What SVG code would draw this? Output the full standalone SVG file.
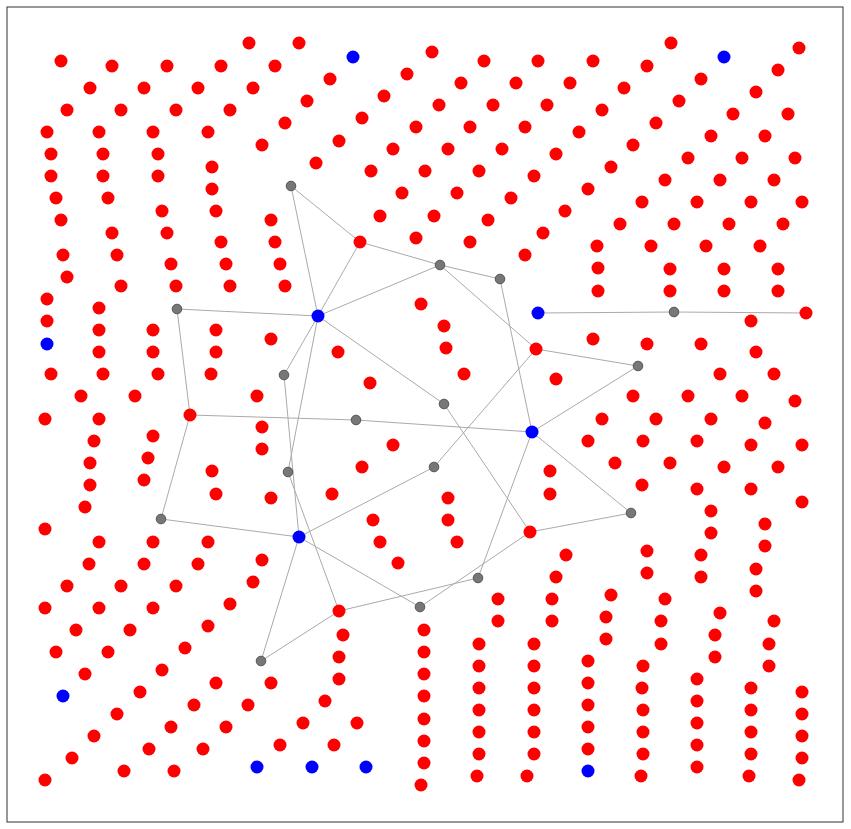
<svg xmlns="http://www.w3.org/2000/svg" width="851" height="829" viewBox="0 0 851 829">
<style>
.r{fill:#ff0000}
.b{fill:#0000ff}
.g{fill:#777777;stroke:#555555;stroke-width:1}
.e line{stroke:#aaaaaa;stroke-width:1}
</style>
<rect x="7" y="7" width="836" height="815" fill="#ffffff" stroke="#333333" stroke-width="1"/>
<g id="connectors" class="e">
<line x1="291" y1="186" x2="360" y2="242"/>
<line x1="291" y1="186" x2="318" y2="316"/>
<line x1="360" y1="242" x2="318" y2="316"/>
<line x1="360" y1="242" x2="440" y2="265"/>
<line x1="440" y1="265" x2="318" y2="316"/>
<line x1="440" y1="265" x2="500" y2="279"/>
<line x1="440" y1="265" x2="536" y2="349"/>
<line x1="500" y1="279" x2="532" y2="432"/>
<line x1="318" y1="316" x2="177" y2="309"/>
<line x1="318" y1="316" x2="284" y2="375"/>
<line x1="318" y1="316" x2="288" y2="472"/>
<line x1="318" y1="316" x2="444" y2="404"/>
<line x1="284" y1="375" x2="299" y2="537"/>
<line x1="288" y1="472" x2="339" y2="611"/>
<line x1="177" y1="309" x2="190" y2="415"/>
<line x1="190" y1="415" x2="356" y2="420"/>
<line x1="356" y1="420" x2="532" y2="432"/>
<line x1="190" y1="415" x2="161" y2="519"/>
<line x1="161" y1="519" x2="299" y2="537"/>
<line x1="299" y1="537" x2="434" y2="467"/>
<line x1="434" y1="467" x2="536" y2="349"/>
<line x1="299" y1="537" x2="261" y2="661"/>
<line x1="299" y1="537" x2="420" y2="607"/>
<line x1="261" y1="661" x2="339" y2="611"/>
<line x1="339" y1="611" x2="478" y2="578"/>
<line x1="478" y1="578" x2="532" y2="432"/>
<line x1="420" y1="607" x2="530" y2="532"/>
<line x1="444" y1="404" x2="530" y2="532"/>
<line x1="530" y1="532" x2="631" y2="513"/>
<line x1="532" y1="432" x2="631" y2="513"/>
<line x1="532" y1="432" x2="638" y2="366"/>
<line x1="536" y1="349" x2="638" y2="366"/>
<line x1="538" y1="313" x2="674" y2="312"/>
<line x1="674" y1="312" x2="806" y2="313"/>
</g>
<g id="nodes">
<g id="b1"><circle class="b" cx="353" cy="57" r="6.5"/></g>
<g id="b2"><circle class="b" cx="724" cy="57" r="6.5"/></g>
<g id="b3"><circle class="b" cx="47" cy="344" r="6.5"/></g>
<g id="b4"><circle class="b" cx="318" cy="316" r="6.5"/></g>
<g id="b5"><circle class="b" cx="538" cy="313" r="6.5"/></g>
<g id="b6"><circle class="b" cx="532" cy="432" r="6.5"/></g>
<g id="b7"><circle class="b" cx="299" cy="537" r="6.5"/></g>
<g id="b8"><circle class="b" cx="63" cy="696" r="6.5"/></g>
<g id="b9"><circle class="b" cx="257" cy="767" r="6.5"/></g>
<g id="b10"><circle class="b" cx="312" cy="767" r="6.5"/></g>
<g id="b11"><circle class="b" cx="366" cy="767" r="6.5"/></g>
<g id="b12"><circle class="b" cx="588" cy="771" r="6.5"/></g>
<g id="g1"><circle class="g" cx="291" cy="186" r="4.8"/></g>
<g id="g2"><circle class="g" cx="440" cy="265" r="4.8"/></g>
<g id="g3"><circle class="g" cx="500" cy="279" r="4.8"/></g>
<g id="g4"><circle class="g" cx="177" cy="309" r="4.8"/></g>
<g id="g5"><circle class="g" cx="284" cy="375" r="4.8"/></g>
<g id="g6"><circle class="g" cx="444" cy="404" r="4.8"/></g>
<g id="g7"><circle class="g" cx="356" cy="420" r="4.8"/></g>
<g id="g8"><circle class="g" cx="288" cy="472" r="4.8"/></g>
<g id="g9"><circle class="g" cx="434" cy="467" r="4.8"/></g>
<g id="g10"><circle class="g" cx="161" cy="519" r="4.8"/></g>
<g id="g11"><circle class="g" cx="638" cy="366" r="4.8"/></g>
<g id="g12"><circle class="g" cx="674" cy="312" r="4.8"/></g>
<g id="g13"><circle class="g" cx="631" cy="513" r="4.8"/></g>
<g id="g14"><circle class="g" cx="478" cy="578" r="4.8"/></g>
<g id="g15"><circle class="g" cx="420" cy="607" r="4.8"/></g>
<g id="g16"><circle class="g" cx="261" cy="661" r="4.8"/></g>
<g id="r1"><circle class="r" cx="61" cy="61" r="6.5"/></g>
<g id="r2"><circle class="r" cx="112" cy="66" r="6.5"/></g>
<g id="r3"><circle class="r" cx="167" cy="66" r="6.5"/></g>
<g id="r4"><circle class="r" cx="221" cy="66" r="6.5"/></g>
<g id="r5"><circle class="r" cx="90" cy="88" r="6.5"/></g>
<g id="r6"><circle class="r" cx="144" cy="88" r="6.5"/></g>
<g id="r7"><circle class="r" cx="198" cy="88" r="6.5"/></g>
<g id="r8"><circle class="r" cx="67" cy="110" r="6.5"/></g>
<g id="r9"><circle class="r" cx="121" cy="110" r="6.5"/></g>
<g id="r10"><circle class="r" cx="176" cy="110" r="6.5"/></g>
<g id="r11"><circle class="r" cx="47" cy="132" r="6.5"/></g>
<g id="r12"><circle class="r" cx="99" cy="132" r="6.5"/></g>
<g id="r13"><circle class="r" cx="153" cy="132" r="6.5"/></g>
<g id="r14"><circle class="r" cx="208" cy="132" r="6.5"/></g>
<g id="r15"><circle class="r" cx="51" cy="154" r="6.5"/></g>
<g id="r16"><circle class="r" cx="103" cy="154" r="6.5"/></g>
<g id="r17"><circle class="r" cx="158" cy="154" r="6.5"/></g>
<g id="r18"><circle class="r" cx="212" cy="167" r="6.5"/></g>
<g id="r19"><circle class="r" cx="51" cy="176" r="6.5"/></g>
<g id="r20"><circle class="r" cx="103" cy="176" r="6.5"/></g>
<g id="r21"><circle class="r" cx="158" cy="176" r="6.5"/></g>
<g id="r22"><circle class="r" cx="212" cy="189" r="6.5"/></g>
<g id="r23"><circle class="r" cx="56" cy="198" r="6.5"/></g>
<g id="r24"><circle class="r" cx="108" cy="198" r="6.5"/></g>
<g id="r25"><circle class="r" cx="162" cy="211" r="6.5"/></g>
<g id="r26"><circle class="r" cx="216" cy="211" r="6.5"/></g>
<g id="r27"><circle class="r" cx="61" cy="220" r="6.5"/></g>
<g id="r28"><circle class="r" cx="112" cy="233" r="6.5"/></g>
<g id="r29"><circle class="r" cx="167" cy="233" r="6.5"/></g>
<g id="r30"><circle class="r" cx="221" cy="242" r="6.5"/></g>
<g id="r31"><circle class="r" cx="63" cy="255" r="6.5"/></g>
<g id="r32"><circle class="r" cx="117" cy="255" r="6.5"/></g>
<g id="r33"><circle class="r" cx="171" cy="264" r="6.5"/></g>
<g id="r34"><circle class="r" cx="67" cy="277" r="6.5"/></g>
<g id="r35"><circle class="r" cx="249" cy="43" r="6.5"/></g>
<g id="r36"><circle class="r" cx="299" cy="43" r="6.5"/></g>
<g id="r37"><circle class="r" cx="275" cy="66" r="6.5"/></g>
<g id="r38"><circle class="r" cx="330" cy="79" r="6.5"/></g>
<g id="r39"><circle class="r" cx="407" cy="74" r="6.5"/></g>
<g id="r40"><circle class="r" cx="253" cy="88" r="6.5"/></g>
<g id="r41"><circle class="r" cx="307" cy="101" r="6.5"/></g>
<g id="r42"><circle class="r" cx="384" cy="96" r="6.5"/></g>
<g id="r43"><circle class="r" cx="230" cy="110" r="6.5"/></g>
<g id="r44"><circle class="r" cx="285" cy="123" r="6.5"/></g>
<g id="r45"><circle class="r" cx="362" cy="118" r="6.5"/></g>
<g id="r46"><circle class="r" cx="416" cy="127" r="6.5"/></g>
<g id="r47"><circle class="r" cx="262" cy="145" r="6.5"/></g>
<g id="r48"><circle class="r" cx="339" cy="141" r="6.5"/></g>
<g id="r49"><circle class="r" cx="393" cy="149" r="6.5"/></g>
<g id="r50"><circle class="r" cx="316" cy="163" r="6.5"/></g>
<g id="r51"><circle class="r" cx="371" cy="171" r="6.5"/></g>
<g id="r52"><circle class="r" cx="425" cy="171" r="6.5"/></g>
<g id="r53"><circle class="r" cx="402" cy="193" r="6.5"/></g>
<g id="r54"><circle class="r" cx="271" cy="220" r="6.5"/></g>
<g id="r55"><circle class="r" cx="380" cy="216" r="6.5"/></g>
<g id="r56"><circle class="r" cx="434" cy="216" r="6.5"/></g>
<g id="r57"><circle class="r" cx="275" cy="242" r="6.5"/></g>
<g id="r58"><circle class="r" cx="360" cy="242" r="6.5"/></g>
<g id="r59"><circle class="r" cx="416" cy="238" r="6.5"/></g>
<g id="r60"><circle class="r" cx="226" cy="264" r="6.5"/></g>
<g id="r61"><circle class="r" cx="280" cy="264" r="6.5"/></g>
<g id="r62"><circle class="r" cx="432" cy="52" r="6.5"/></g>
<g id="r63"><circle class="r" cx="484" cy="61" r="6.5"/></g>
<g id="r64"><circle class="r" cx="538" cy="61" r="6.5"/></g>
<g id="r65"><circle class="r" cx="593" cy="61" r="6.5"/></g>
<g id="r66"><circle class="r" cx="461" cy="83" r="6.5"/></g>
<g id="r67"><circle class="r" cx="516" cy="83" r="6.5"/></g>
<g id="r68"><circle class="r" cx="570" cy="83" r="6.5"/></g>
<g id="r69"><circle class="r" cx="624" cy="88" r="6.5"/></g>
<g id="r70"><circle class="r" cx="439" cy="105" r="6.5"/></g>
<g id="r71"><circle class="r" cx="493" cy="105" r="6.5"/></g>
<g id="r72"><circle class="r" cx="547" cy="105" r="6.5"/></g>
<g id="r73"><circle class="r" cx="602" cy="110" r="6.5"/></g>
<g id="r74"><circle class="r" cx="470" cy="127" r="6.5"/></g>
<g id="r75"><circle class="r" cx="525" cy="127" r="6.5"/></g>
<g id="r76"><circle class="r" cx="579" cy="132" r="6.5"/></g>
<g id="r77"><circle class="r" cx="448" cy="149" r="6.5"/></g>
<g id="r78"><circle class="r" cx="502" cy="149" r="6.5"/></g>
<g id="r79"><circle class="r" cx="556" cy="154" r="6.5"/></g>
<g id="r80"><circle class="r" cx="633" cy="145" r="6.5"/></g>
<g id="r81"><circle class="r" cx="479" cy="171" r="6.5"/></g>
<g id="r82"><circle class="r" cx="534" cy="176" r="6.5"/></g>
<g id="r83"><circle class="r" cx="611" cy="167" r="6.5"/></g>
<g id="r84"><circle class="r" cx="457" cy="193" r="6.5"/></g>
<g id="r85"><circle class="r" cx="511" cy="198" r="6.5"/></g>
<g id="r86"><circle class="r" cx="588" cy="189" r="6.5"/></g>
<g id="r87"><circle class="r" cx="642" cy="202" r="6.5"/></g>
<g id="r88"><circle class="r" cx="488" cy="220" r="6.5"/></g>
<g id="r89"><circle class="r" cx="565" cy="211" r="6.5"/></g>
<g id="r90"><circle class="r" cx="620" cy="224" r="6.5"/></g>
<g id="r91"><circle class="r" cx="470" cy="242" r="6.5"/></g>
<g id="r92"><circle class="r" cx="543" cy="233" r="6.5"/></g>
<g id="r93"><circle class="r" cx="597" cy="246" r="6.5"/></g>
<g id="r94"><circle class="r" cx="525" cy="255" r="6.5"/></g>
<g id="r95"><circle class="r" cx="598" cy="268" r="6.5"/></g>
<g id="r96"><circle class="r" cx="671" cy="43" r="6.5"/></g>
<g id="r97"><circle class="r" cx="799" cy="48" r="6.5"/></g>
<g id="r98"><circle class="r" cx="647" cy="66" r="6.5"/></g>
<g id="r99"><circle class="r" cx="701" cy="79" r="6.5"/></g>
<g id="r100"><circle class="r" cx="778" cy="70" r="6.5"/></g>
<g id="r101"><circle class="r" cx="679" cy="101" r="6.5"/></g>
<g id="r102"><circle class="r" cx="756" cy="92" r="6.5"/></g>
<g id="r103"><circle class="r" cx="656" cy="123" r="6.5"/></g>
<g id="r104"><circle class="r" cx="733" cy="114" r="6.5"/></g>
<g id="r105"><circle class="r" cx="788" cy="114" r="6.5"/></g>
<g id="r106"><circle class="r" cx="711" cy="136" r="6.5"/></g>
<g id="r107"><circle class="r" cx="765" cy="136" r="6.5"/></g>
<g id="r108"><circle class="r" cx="688" cy="158" r="6.5"/></g>
<g id="r109"><circle class="r" cx="742" cy="158" r="6.5"/></g>
<g id="r110"><circle class="r" cx="795" cy="158" r="6.5"/></g>
<g id="r111"><circle class="r" cx="665" cy="180" r="6.5"/></g>
<g id="r112"><circle class="r" cx="720" cy="180" r="6.5"/></g>
<g id="r113"><circle class="r" cx="774" cy="180" r="6.5"/></g>
<g id="r114"><circle class="r" cx="697" cy="202" r="6.5"/></g>
<g id="r115"><circle class="r" cx="751" cy="202" r="6.5"/></g>
<g id="r116"><circle class="r" cx="802" cy="202" r="6.5"/></g>
<g id="r117"><circle class="r" cx="674" cy="224" r="6.5"/></g>
<g id="r118"><circle class="r" cx="729" cy="224" r="6.5"/></g>
<g id="r119"><circle class="r" cx="783" cy="224" r="6.5"/></g>
<g id="r120"><circle class="r" cx="651" cy="246" r="6.5"/></g>
<g id="r121"><circle class="r" cx="706" cy="246" r="6.5"/></g>
<g id="r122"><circle class="r" cx="760" cy="246" r="6.5"/></g>
<g id="r123"><circle class="r" cx="670" cy="269" r="6.5"/></g>
<g id="r124"><circle class="r" cx="724" cy="269" r="6.5"/></g>
<g id="r125"><circle class="r" cx="778" cy="269" r="6.5"/></g>
<g id="r126"><circle class="r" cx="121" cy="286" r="6.5"/></g>
<g id="r127"><circle class="r" cx="176" cy="286" r="6.5"/></g>
<g id="r128"><circle class="r" cx="47" cy="299" r="6.5"/></g>
<g id="r129"><circle class="r" cx="99" cy="308" r="6.5"/></g>
<g id="r130"><circle class="r" cx="47" cy="321" r="6.5"/></g>
<g id="r131"><circle class="r" cx="99" cy="330" r="6.5"/></g>
<g id="r132"><circle class="r" cx="153" cy="330" r="6.5"/></g>
<g id="r133"><circle class="r" cx="216" cy="330" r="6.5"/></g>
<g id="r134"><circle class="r" cx="99" cy="352" r="6.5"/></g>
<g id="r135"><circle class="r" cx="153" cy="352" r="6.5"/></g>
<g id="r136"><circle class="r" cx="216" cy="352" r="6.5"/></g>
<g id="r137"><circle class="r" cx="51" cy="374" r="6.5"/></g>
<g id="r138"><circle class="r" cx="103" cy="374" r="6.5"/></g>
<g id="r139"><circle class="r" cx="158" cy="374" r="6.5"/></g>
<g id="r140"><circle class="r" cx="211" cy="374" r="6.5"/></g>
<g id="r141"><circle class="r" cx="81" cy="396" r="6.5"/></g>
<g id="r142"><circle class="r" cx="135" cy="396" r="6.5"/></g>
<g id="r143"><circle class="r" cx="45" cy="419" r="6.5"/></g>
<g id="r144"><circle class="r" cx="99" cy="419" r="6.5"/></g>
<g id="r145"><circle class="r" cx="190" cy="415" r="6.5"/></g>
<g id="r146"><circle class="r" cx="94" cy="441" r="6.5"/></g>
<g id="r147"><circle class="r" cx="153" cy="436" r="6.5"/></g>
<g id="r148"><circle class="r" cx="90" cy="463" r="6.5"/></g>
<g id="r149"><circle class="r" cx="148" cy="458" r="6.5"/></g>
<g id="r150"><circle class="r" cx="212" cy="471" r="6.5"/></g>
<g id="r151"><circle class="r" cx="90" cy="485" r="6.5"/></g>
<g id="r152"><circle class="r" cx="144" cy="480" r="6.5"/></g>
<g id="r153"><circle class="r" cx="216" cy="494" r="6.5"/></g>
<g id="r154"><circle class="r" cx="85" cy="507" r="6.5"/></g>
<g id="r155"><circle class="r" cx="45" cy="529" r="6.5"/></g>
<g id="r156"><circle class="r" cx="99" cy="542" r="6.5"/></g>
<g id="r157"><circle class="r" cx="153" cy="542" r="6.5"/></g>
<g id="r158"><circle class="r" cx="208" cy="542" r="6.5"/></g>
<g id="r159"><circle class="r" cx="230" cy="286" r="6.5"/></g>
<g id="r160"><circle class="r" cx="285" cy="286" r="6.5"/></g>
<g id="r161"><circle class="r" cx="421" cy="304" r="6.5"/></g>
<g id="r162"><circle class="r" cx="271" cy="339" r="6.5"/></g>
<g id="r163"><circle class="r" cx="338" cy="352" r="6.5"/></g>
<g id="r164"><circle class="r" cx="370" cy="383" r="6.5"/></g>
<g id="r165"><circle class="r" cx="257" cy="396" r="6.5"/></g>
<g id="r166"><circle class="r" cx="262" cy="427" r="6.5"/></g>
<g id="r167"><circle class="r" cx="262" cy="449" r="6.5"/></g>
<g id="r168"><circle class="r" cx="393" cy="445" r="6.5"/></g>
<g id="r169"><circle class="r" cx="362" cy="467" r="6.5"/></g>
<g id="r170"><circle class="r" cx="271" cy="498" r="6.5"/></g>
<g id="r171"><circle class="r" cx="332" cy="494" r="6.5"/></g>
<g id="r172"><circle class="r" cx="373" cy="520" r="6.5"/></g>
<g id="r173"><circle class="r" cx="380" cy="542" r="6.5"/></g>
<g id="r174"><circle class="r" cx="262" cy="560" r="6.5"/></g>
<g id="r175"><circle class="r" cx="398" cy="563" r="6.5"/></g>
<g id="r176"><circle class="r" cx="598" cy="291" r="6.5"/></g>
<g id="r177"><circle class="r" cx="444" cy="326" r="6.5"/></g>
<g id="r178"><circle class="r" cx="446" cy="348" r="6.5"/></g>
<g id="r179"><circle class="r" cx="536" cy="349" r="6.5"/></g>
<g id="r180"><circle class="r" cx="593" cy="339" r="6.5"/></g>
<g id="r181"><circle class="r" cx="556" cy="379" r="6.5"/></g>
<g id="r182"><circle class="r" cx="464" cy="374" r="6.5"/></g>
<g id="r183"><circle class="r" cx="633" cy="396" r="6.5"/></g>
<g id="r184"><circle class="r" cx="602" cy="419" r="6.5"/></g>
<g id="r185"><circle class="r" cx="588" cy="441" r="6.5"/></g>
<g id="r186"><circle class="r" cx="643" cy="441" r="6.5"/></g>
<g id="r187"><circle class="r" cx="615" cy="463" r="6.5"/></g>
<g id="r188"><circle class="r" cx="550" cy="471" r="6.5"/></g>
<g id="r189"><circle class="r" cx="550" cy="494" r="6.5"/></g>
<g id="r190"><circle class="r" cx="448" cy="498" r="6.5"/></g>
<g id="r191"><circle class="r" cx="448" cy="520" r="6.5"/></g>
<g id="r192"><circle class="r" cx="457" cy="542" r="6.5"/></g>
<g id="r193"><circle class="r" cx="530" cy="532" r="6.5"/></g>
<g id="r194"><circle class="r" cx="566" cy="555" r="6.5"/></g>
<g id="r195"><circle class="r" cx="642" cy="485" r="6.5"/></g>
<g id="r196"><circle class="r" cx="670" cy="291" r="6.5"/></g>
<g id="r197"><circle class="r" cx="724" cy="291" r="6.5"/></g>
<g id="r198"><circle class="r" cx="778" cy="291" r="6.5"/></g>
<g id="r199"><circle class="r" cx="806" cy="313" r="6.5"/></g>
<g id="r200"><circle class="r" cx="751" cy="321" r="6.5"/></g>
<g id="r201"><circle class="r" cx="647" cy="344" r="6.5"/></g>
<g id="r202"><circle class="r" cx="701" cy="344" r="6.5"/></g>
<g id="r203"><circle class="r" cx="756" cy="352" r="6.5"/></g>
<g id="r204"><circle class="r" cx="720" cy="374" r="6.5"/></g>
<g id="r205"><circle class="r" cx="774" cy="374" r="6.5"/></g>
<g id="r206"><circle class="r" cx="688" cy="396" r="6.5"/></g>
<g id="r207"><circle class="r" cx="742" cy="396" r="6.5"/></g>
<g id="r208"><circle class="r" cx="795" cy="401" r="6.5"/></g>
<g id="r209"><circle class="r" cx="656" cy="419" r="6.5"/></g>
<g id="r210"><circle class="r" cx="711" cy="419" r="6.5"/></g>
<g id="r211"><circle class="r" cx="765" cy="423" r="6.5"/></g>
<g id="r212"><circle class="r" cx="697" cy="441" r="6.5"/></g>
<g id="r213"><circle class="r" cx="751" cy="445" r="6.5"/></g>
<g id="r214"><circle class="r" cx="802" cy="445" r="6.5"/></g>
<g id="r215"><circle class="r" cx="670" cy="463" r="6.5"/></g>
<g id="r216"><circle class="r" cx="724" cy="467" r="6.5"/></g>
<g id="r217"><circle class="r" cx="778" cy="467" r="6.5"/></g>
<g id="r218"><circle class="r" cx="697" cy="489" r="6.5"/></g>
<g id="r219"><circle class="r" cx="751" cy="489" r="6.5"/></g>
<g id="r220"><circle class="r" cx="802" cy="502" r="6.5"/></g>
<g id="r221"><circle class="r" cx="711" cy="511" r="6.5"/></g>
<g id="r222"><circle class="r" cx="765" cy="524" r="6.5"/></g>
<g id="r223"><circle class="r" cx="711" cy="533" r="6.5"/></g>
<g id="r224"><circle class="r" cx="765" cy="546" r="6.5"/></g>
<g id="r225"><circle class="r" cx="647" cy="551" r="6.5"/></g>
<g id="r226"><circle class="r" cx="701" cy="555" r="6.5"/></g>
<g id="r227"><circle class="r" cx="89" cy="564" r="6.5"/></g>
<g id="r228"><circle class="r" cx="144" cy="564" r="6.5"/></g>
<g id="r229"><circle class="r" cx="198" cy="564" r="6.5"/></g>
<g id="r230"><circle class="r" cx="67" cy="586" r="6.5"/></g>
<g id="r231"><circle class="r" cx="121" cy="586" r="6.5"/></g>
<g id="r232"><circle class="r" cx="176" cy="586" r="6.5"/></g>
<g id="r233"><circle class="r" cx="45" cy="608" r="6.5"/></g>
<g id="r234"><circle class="r" cx="99" cy="608" r="6.5"/></g>
<g id="r235"><circle class="r" cx="153" cy="608" r="6.5"/></g>
<g id="r236"><circle class="r" cx="208" cy="626" r="6.5"/></g>
<g id="r237"><circle class="r" cx="76" cy="630" r="6.5"/></g>
<g id="r238"><circle class="r" cx="130" cy="630" r="6.5"/></g>
<g id="r239"><circle class="r" cx="185" cy="648" r="6.5"/></g>
<g id="r240"><circle class="r" cx="56" cy="652" r="6.5"/></g>
<g id="r241"><circle class="r" cx="108" cy="652" r="6.5"/></g>
<g id="r242"><circle class="r" cx="162" cy="670" r="6.5"/></g>
<g id="r243"><circle class="r" cx="85" cy="674" r="6.5"/></g>
<g id="r244"><circle class="r" cx="216" cy="683" r="6.5"/></g>
<g id="r245"><circle class="r" cx="140" cy="692" r="6.5"/></g>
<g id="r246"><circle class="r" cx="194" cy="705" r="6.5"/></g>
<g id="r247"><circle class="r" cx="117" cy="714" r="6.5"/></g>
<g id="r248"><circle class="r" cx="171" cy="727" r="6.5"/></g>
<g id="r249"><circle class="r" cx="94" cy="736" r="6.5"/></g>
<g id="r250"><circle class="r" cx="149" cy="749" r="6.5"/></g>
<g id="r251"><circle class="r" cx="203" cy="749" r="6.5"/></g>
<g id="r252"><circle class="r" cx="72" cy="758" r="6.5"/></g>
<g id="r253"><circle class="r" cx="124" cy="771" r="6.5"/></g>
<g id="r254"><circle class="r" cx="174" cy="771" r="6.5"/></g>
<g id="r255"><circle class="r" cx="45" cy="780" r="6.5"/></g>
<g id="r256"><circle class="r" cx="253" cy="582" r="6.5"/></g>
<g id="r257"><circle class="r" cx="230" cy="604" r="6.5"/></g>
<g id="r258"><circle class="r" cx="339" cy="611" r="6.5"/></g>
<g id="r259"><circle class="r" cx="343" cy="635" r="6.5"/></g>
<g id="r260"><circle class="r" cx="339" cy="657" r="6.5"/></g>
<g id="r261"><circle class="r" cx="339" cy="679" r="6.5"/></g>
<g id="r262"><circle class="r" cx="271" cy="683" r="6.5"/></g>
<g id="r263"><circle class="r" cx="325" cy="701" r="6.5"/></g>
<g id="r264"><circle class="r" cx="248" cy="705" r="6.5"/></g>
<g id="r265"><circle class="r" cx="226" cy="727" r="6.5"/></g>
<g id="r266"><circle class="r" cx="303" cy="723" r="6.5"/></g>
<g id="r267"><circle class="r" cx="357" cy="723" r="6.5"/></g>
<g id="r268"><circle class="r" cx="280" cy="745" r="6.5"/></g>
<g id="r269"><circle class="r" cx="334" cy="745" r="6.5"/></g>
<g id="r270"><circle class="r" cx="424" cy="630" r="6.5"/></g>
<g id="r271"><circle class="r" cx="424" cy="652" r="6.5"/></g>
<g id="r272"><circle class="r" cx="424" cy="674" r="6.5"/></g>
<g id="r273"><circle class="r" cx="424" cy="696" r="6.5"/></g>
<g id="r274"><circle class="r" cx="424" cy="719" r="6.5"/></g>
<g id="r275"><circle class="r" cx="424" cy="741" r="6.5"/></g>
<g id="r276"><circle class="r" cx="424" cy="763" r="6.5"/></g>
<g id="r277"><circle class="r" cx="421" cy="785" r="6.5"/></g>
<g id="r278"><circle class="r" cx="556" cy="577" r="6.5"/></g>
<g id="r279"><circle class="r" cx="498" cy="599" r="6.5"/></g>
<g id="r280"><circle class="r" cx="552" cy="599" r="6.5"/></g>
<g id="r281"><circle class="r" cx="611" cy="595" r="6.5"/></g>
<g id="r282"><circle class="r" cx="498" cy="621" r="6.5"/></g>
<g id="r283"><circle class="r" cx="552" cy="621" r="6.5"/></g>
<g id="r284"><circle class="r" cx="606" cy="617" r="6.5"/></g>
<g id="r285"><circle class="r" cx="606" cy="639" r="6.5"/></g>
<g id="r286"><circle class="r" cx="479" cy="644" r="6.5"/></g>
<g id="r287"><circle class="r" cx="534" cy="644" r="6.5"/></g>
<g id="r288"><circle class="r" cx="588" cy="661" r="6.5"/></g>
<g id="r289"><circle class="r" cx="479" cy="666" r="6.5"/></g>
<g id="r290"><circle class="r" cx="534" cy="666" r="6.5"/></g>
<g id="r291"><circle class="r" cx="588" cy="683" r="6.5"/></g>
<g id="r292"><circle class="r" cx="479" cy="688" r="6.5"/></g>
<g id="r293"><circle class="r" cx="534" cy="688" r="6.5"/></g>
<g id="r294"><circle class="r" cx="588" cy="705" r="6.5"/></g>
<g id="r295"><circle class="r" cx="479" cy="710" r="6.5"/></g>
<g id="r296"><circle class="r" cx="534" cy="710" r="6.5"/></g>
<g id="r297"><circle class="r" cx="588" cy="727" r="6.5"/></g>
<g id="r298"><circle class="r" cx="479" cy="732" r="6.5"/></g>
<g id="r299"><circle class="r" cx="534" cy="732" r="6.5"/></g>
<g id="r300"><circle class="r" cx="588" cy="749" r="6.5"/></g>
<g id="r301"><circle class="r" cx="479" cy="754" r="6.5"/></g>
<g id="r302"><circle class="r" cx="534" cy="754" r="6.5"/></g>
<g id="r303"><circle class="r" cx="477" cy="776" r="6.5"/></g>
<g id="r304"><circle class="r" cx="527" cy="776" r="6.5"/></g>
<g id="r305"><circle class="r" cx="647" cy="573" r="6.5"/></g>
<g id="r306"><circle class="r" cx="701" cy="577" r="6.5"/></g>
<g id="r307"><circle class="r" cx="756" cy="569" r="6.5"/></g>
<g id="r308"><circle class="r" cx="756" cy="591" r="6.5"/></g>
<g id="r309"><circle class="r" cx="665" cy="599" r="6.5"/></g>
<g id="r310"><circle class="r" cx="720" cy="613" r="6.5"/></g>
<g id="r311"><circle class="r" cx="774" cy="621" r="6.5"/></g>
<g id="r312"><circle class="r" cx="661" cy="621" r="6.5"/></g>
<g id="r313"><circle class="r" cx="715" cy="635" r="6.5"/></g>
<g id="r314"><circle class="r" cx="769" cy="644" r="6.5"/></g>
<g id="r315"><circle class="r" cx="661" cy="644" r="6.5"/></g>
<g id="r316"><circle class="r" cx="715" cy="657" r="6.5"/></g>
<g id="r317"><circle class="r" cx="769" cy="666" r="6.5"/></g>
<g id="r318"><circle class="r" cx="643" cy="666" r="6.5"/></g>
<g id="r319"><circle class="r" cx="697" cy="679" r="6.5"/></g>
<g id="r320"><circle class="r" cx="751" cy="688" r="6.5"/></g>
<g id="r321"><circle class="r" cx="802" cy="692" r="6.5"/></g>
<g id="r322"><circle class="r" cx="642" cy="688" r="6.5"/></g>
<g id="r323"><circle class="r" cx="697" cy="701" r="6.5"/></g>
<g id="r324"><circle class="r" cx="751" cy="710" r="6.5"/></g>
<g id="r325"><circle class="r" cx="802" cy="714" r="6.5"/></g>
<g id="r326"><circle class="r" cx="643" cy="710" r="6.5"/></g>
<g id="r327"><circle class="r" cx="697" cy="723" r="6.5"/></g>
<g id="r328"><circle class="r" cx="751" cy="732" r="6.5"/></g>
<g id="r329"><circle class="r" cx="802" cy="736" r="6.5"/></g>
<g id="r330"><circle class="r" cx="643" cy="732" r="6.5"/></g>
<g id="r331"><circle class="r" cx="697" cy="745" r="6.5"/></g>
<g id="r332"><circle class="r" cx="751" cy="754" r="6.5"/></g>
<g id="r333"><circle class="r" cx="802" cy="758" r="6.5"/></g>
<g id="r334"><circle class="r" cx="643" cy="754" r="6.5"/></g>
<g id="r335"><circle class="r" cx="697" cy="767" r="6.5"/></g>
<g id="r336"><circle class="r" cx="749" cy="776" r="6.5"/></g>
<g id="r337"><circle class="r" cx="799" cy="780" r="6.5"/></g>
<g id="r338"><circle class="r" cx="641" cy="776" r="6.5"/></g>
</g>
</svg>
